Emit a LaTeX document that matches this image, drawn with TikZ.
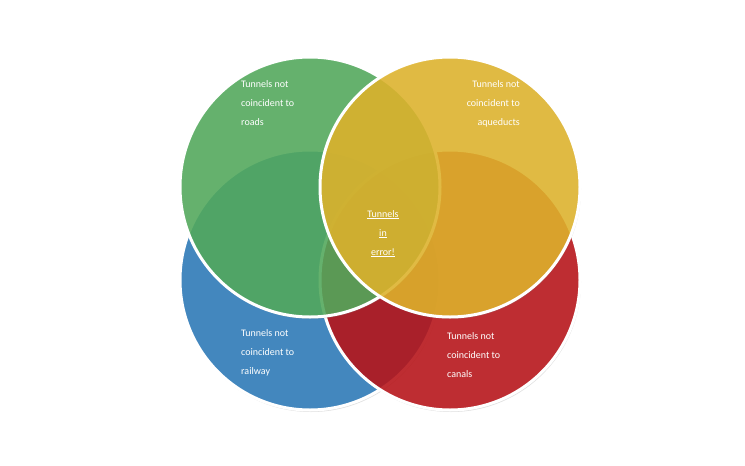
\documentclass[tikz,border=0pt]{standalone}
\usepackage{fontspec}
\setmainfont{Carlito}
\definecolor{VennGreen}{RGB}{80, 170, 90}
\definecolor{VennBlue}{RGB}{40, 120, 185}
\definecolor{VennRed}{RGB}{185, 15, 20}
\definecolor{VennYellow}{RGB}{225, 180, 40}
\usetikzlibrary{shadows}
\newcommand{\sottolinea}[1]{\underline{\smash{#1}}}
\tikzset{
    insieme/.style={draw=white, line width=3pt, fill opacity=0.85, drop shadow={opacity=0.25, shadow xshift=1pt, shadow yshift=-2pt}},
    etichetta/.style={text=white, font=\fontsize{10}{19}\selectfont, inner sep=0pt}
}
\begin{document}
\begin{tikzpicture}[x=1pt, y=-1pt]
    \useasboundingbox[fill=white] (0,0) rectangle (745,466);

    \path[insieme, fill=VennBlue]   (310,280) circle [radius=130];
    \path[insieme, fill=VennRed]    (450,280) circle [radius=130];
    \path[insieme, fill=VennGreen]  (310,187) circle [radius=130];
    \path[insieme, fill=VennYellow] (450,187) circle [radius=130];

    \node[etichetta, anchor=north west, align=left]  (strade)   at (241,80)  {Tunnels not\\coincident to\\roads};
    \node[etichetta, anchor=north east, align=right] (acquedotti) at (520,80) {Tunnels not\\coincident to\\aqueducts};
    \node[etichetta, anchor=north west, align=left]  (ferrovia) at (241,329) {Tunnels not\\coincident to\\railway};
    \node[etichetta, anchor=north west, align=left]  (canali)   at (447,332) {Tunnels not\\coincident to\\canals};
    \node[etichetta, align=center] (errore) at (383,237) {\sottolinea{Tunnels}\\\sottolinea{in}\\\sottolinea{error!}};
\end{tikzpicture}
\end{document}
